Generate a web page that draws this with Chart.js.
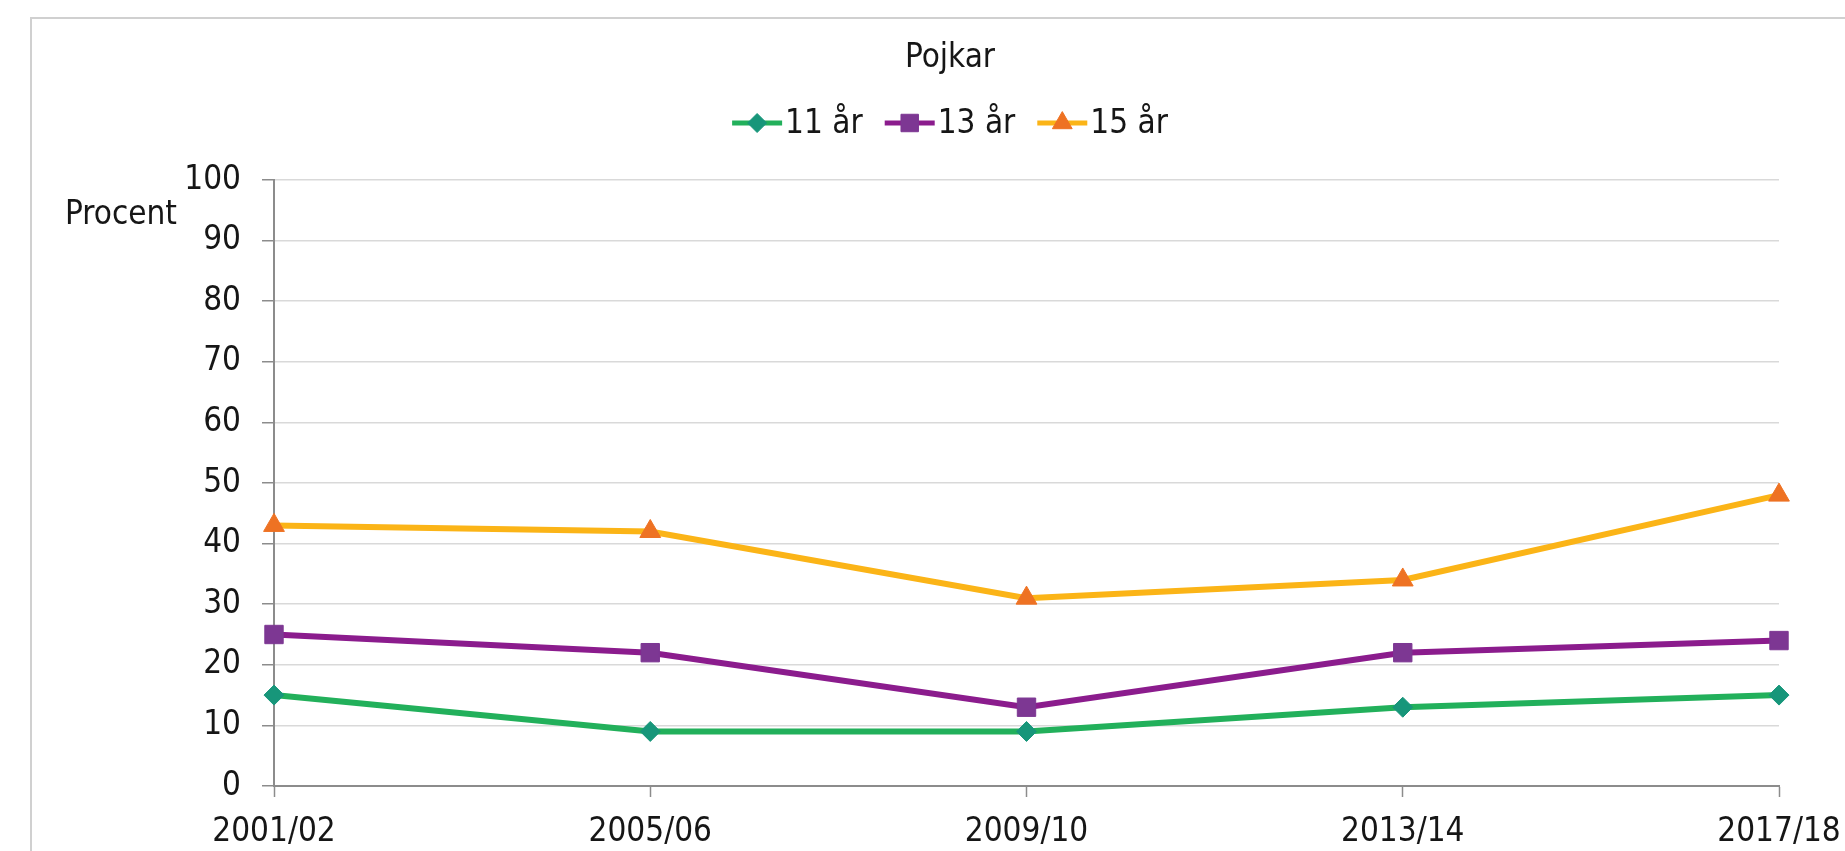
<!DOCTYPE html>
<html>
<head>
<meta charset="utf-8">
<script src="https://cdn.jsdelivr.net/npm/chart.js@4.4.0/dist/chart.umd.min.js"></script>
<style>
  html, body { margin: 0; padding: 0; background: #ffffff; }
  #wrap { position: relative; width: 1845px; height: 851px; overflow: hidden; background: #ffffff; }
  #frame { position: absolute; left: 30px; top: 17px; width: 1900px; height: 900px;
           border: 2px solid #d0d0d0; box-sizing: border-box; }
  #c { position: absolute; left: 0; top: 0; }
</style>
</head>
<body>
<div id="wrap">
  <div id="frame"></div>
  <canvas id="c" width="1845" height="851"></canvas>
</div>
<script>
// Survey rounds on the x axis
const categories = ['2001/02', '2005/06', '2009/10', '2013/14', '2017/18'];

// Share (percent) per age group
const age11 = [15, 9, 9, 13, 15];
const age13 = [25, 22, 13, 22, 24];
const age15 = [43, 42, 31, 34, 48];

const seriesNames = ['11 år', '13 år', '15 år'];
const chartTitle = 'Pojkar';
const yAxisLabel = 'Procent';
const yMin = 0;
const yMax = 100;
const yStep = 10;

const FONT = '"DejaVu Sans Condensed", "DejaVu Sans", sans-serif';
const TEXT = '#161616';
const AXIS = '#8c8c8c';
const GRID = '#d9d9d9';

// Title, legend (line + marker) and the horizontal y-axis caption
const headerPlugin = {
  id: 'header',
  afterDraw(chart, args, opts) {
    const ctx = chart.ctx;
    ctx.save();
    ctx.font = `33px ${FONT}`;
    ctx.fillStyle = TEXT;
    ctx.textBaseline = 'middle';

    ctx.textAlign = 'center';
    ctx.fillText(opts.title, opts.centerX, opts.titleY);

    // legend items
    const symW = 50, textGap = 3, itemGap = 22;
    const items = chart.data.datasets.map(ds => ({ ds, w: symW + textGap + ctx.measureText(ds.label).width }));
    const total = items.reduce((a, it) => a + it.w, 0) + itemGap * (items.length - 1);
    let x = opts.centerX - total / 2;
    const y = opts.legendY;
    ctx.textAlign = 'left';
    items.forEach(it => {
      const ds = it.ds;
      ctx.strokeStyle = ds.borderColor;
      ctx.lineWidth = 5;
      ctx.beginPath();
      ctx.moveTo(x, y);
      ctx.lineTo(x + symW, y);
      ctx.stroke();
      ctx.fillStyle = ds.pointBackgroundColor;
      ctx.strokeStyle = ds.pointBorderColor;
      ctx.lineWidth = 1;
      Chart.helpers.drawPoint(ctx, { pointStyle: ds.pointStyle, radius: ds.pointRadius * 0.95, borderWidth: 1, rotation: 0 }, x + symW / 2, y);
      ctx.fillStyle = TEXT;
      ctx.fillText(ds.label, x + symW + textGap, y + 1);
      x += it.w + itemGap;
    });

    // y-axis caption, written horizontally beside the top ticks
    const ys = chart.scales.y;
    ctx.textAlign = 'right';
    ctx.fillText(opts.yLabel, chart.chartArea.left - 97, ys.getPixelForValue(94.2));
    ctx.restore();
  }
};

const datasets = [
  { label: seriesNames[0], data: age11, borderColor: '#22b05b', pointBackgroundColor: '#17967a',
    pointBorderColor: '#17967a', pointStyle: 'rectRot', pointRadius: 10 },
  { label: seriesNames[1], data: age13, borderColor: '#8b1c8d', pointBackgroundColor: '#7d3793',
    pointBorderColor: '#7d3793', pointStyle: 'rect', pointRadius: 13 },
  { label: seriesNames[2], data: age15, borderColor: '#fbb417', pointBackgroundColor: '#ee7223',
    pointBorderColor: '#ee7223', pointStyle: 'triangle', pointRadius: 12 }
].map(d => Object.assign({ borderWidth: 6, tension: 0, fill: false, pointBorderWidth: 1,
                            pointHoverRadius: d.pointRadius }, d));

new Chart(document.getElementById('c'), {
  type: 'line',
  data: { labels: categories, datasets },
  options: {
    responsive: false,
    animation: false,
    events: [],
    layout: { padding: { top: 180, left: 30, right: 66, bottom: 0 } },
    plugins: {
      legend: { display: false },
      title: { display: false },
      tooltip: { enabled: false },
      header: { title: chartTitle, yLabel: yAxisLabel, centerX: 950, titleY: 58, legendY: 123 }
    },
    scales: {
      x: {
        offset: false,
        ticks: { color: TEXT, font: { family: FONT, size: 33 }, padding: 16, maxRotation: 0, autoSkip: false },
        grid: { drawOnChartArea: false, drawTicks: true, tickLength: 11, tickColor: AXIS, tickWidth: 1.5 },
        border: { color: AXIS, width: 2 },
        afterFit: s => { s.height = 65; s.paddingLeft = 0; s.paddingRight = 0; }
      },
      y: {
        min: yMin, max: yMax,
        ticks: { stepSize: yStep, color: TEXT, font: { family: FONT, size: 33 }, padding: 21 },
        grid: { color: c => (c.tick && c.tick.value === 0 ? AXIS : GRID), lineWidth: 1.5,
                tickLength: 12, tickColor: AXIS, tickWidth: 1.5 },
        border: { color: AXIS, width: 2 },
        afterFit: s => { s.width = 244; }
      }
    }
  },
  plugins: [headerPlugin]
});
</script>
</body>
</html>
